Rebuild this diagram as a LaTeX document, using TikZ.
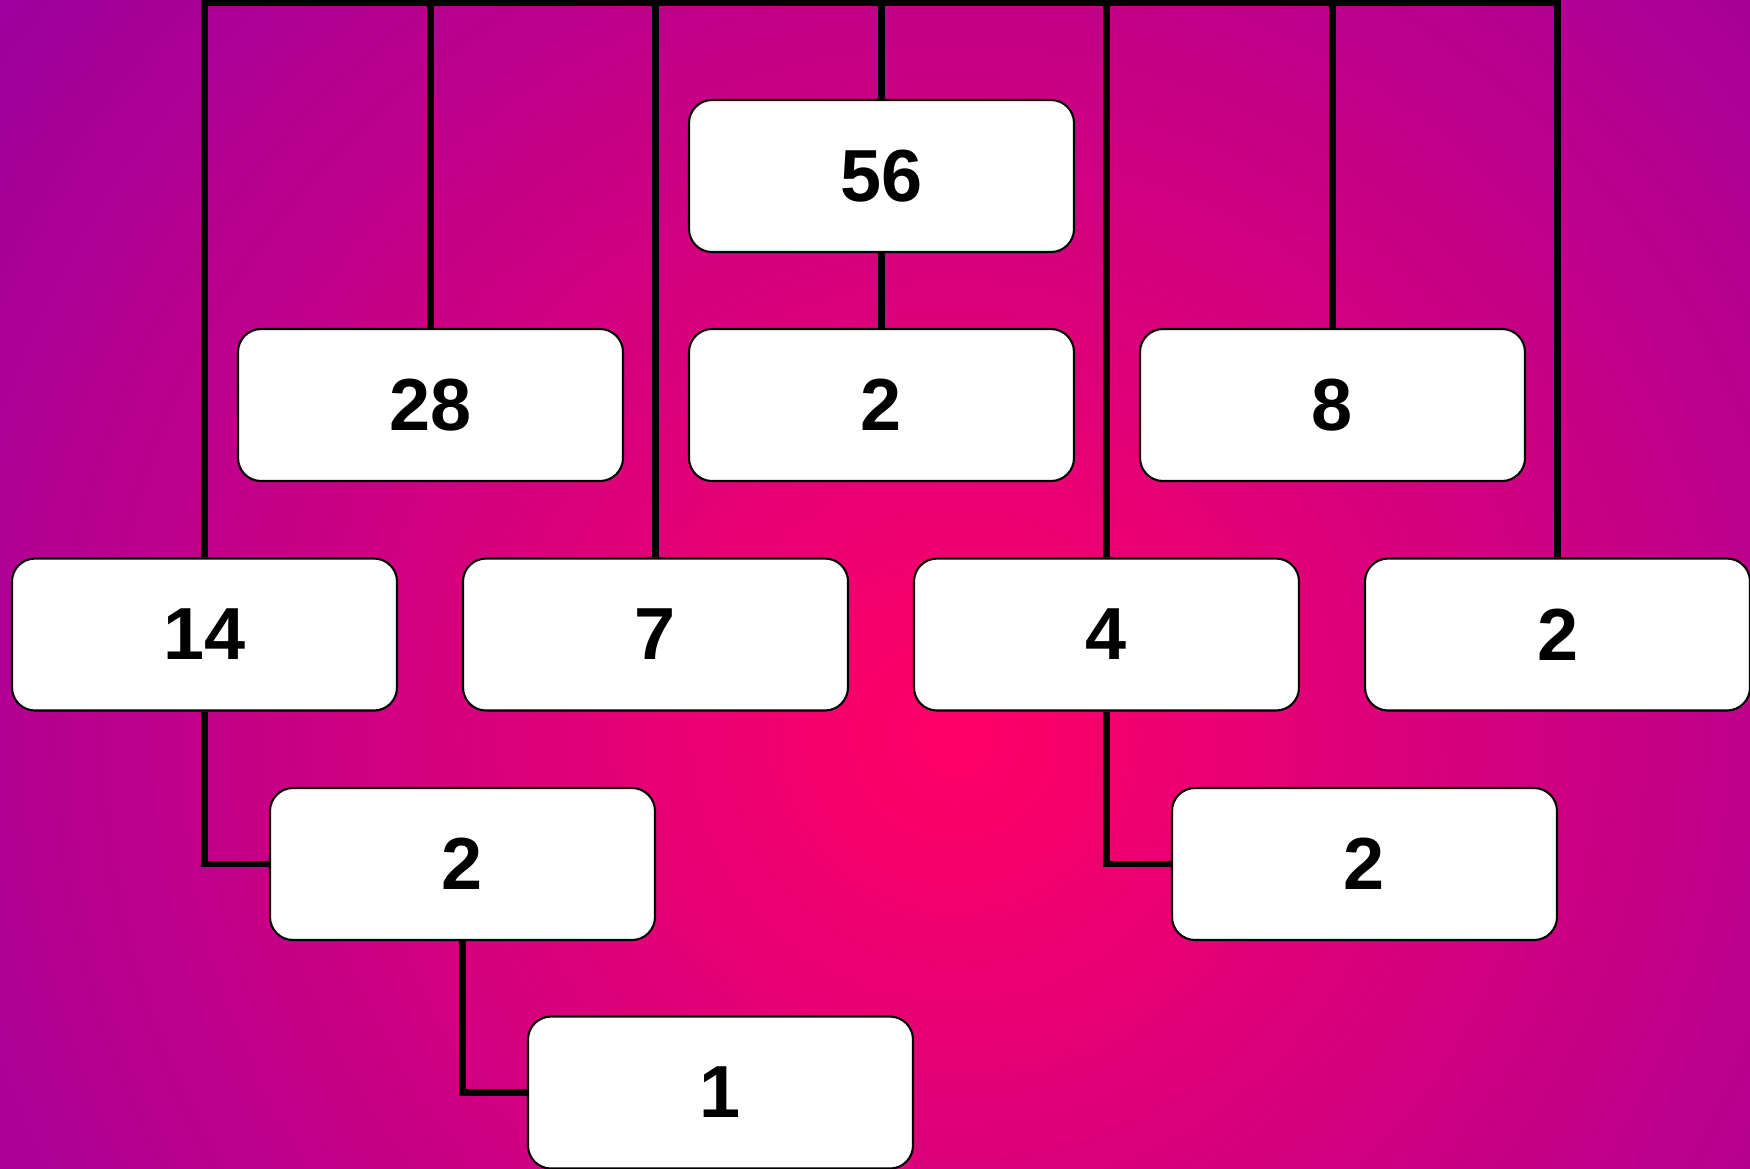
\documentclass[tikz,border=0pt]{standalone}
\usepackage{fontspec}
\setmainfont{Liberation Sans}
\usetikzlibrary{positioning,calc}
\usepackage{xcolor}
\definecolor{bgcenter}{RGB}{255,0,102}
\definecolor{bgedge}{RGB}{155,0,158}

\begin{document}
\begin{tikzpicture}[
  numbox/.style={rectangle, draw=black, line width=0.6pt, fill=white, rounded corners=0.23cm,
    minimum width=3.85cm, minimum height=1.52cm, inner sep=0pt, align=center,
    font=\fontsize{21}{25}\selectfont\bfseries},
  link/.style={draw=black, line width=1.8pt}
]
  % background
  \useasboundingbox (0,0) rectangle (17.5,-11.68);
  \begin{scope}
    \clip (0,0) rectangle (17.5,-11.68);
    \shade[inner color=bgcenter, outer color=bgedge] (9.54,-7.37) circle (12.2);
  \end{scope}

  \coordinate (bus) at (0,-0.03);

  \node[numbox] (n56) at (8.815,-1.76) {56};
  \node[numbox] (n28) at (4.305,-4.05) {28};
  \node[numbox] (n2a) at (8.815,-4.05) {2};
  \node[numbox] (n8) at (13.325,-4.05) {8};
  \node[numbox] (n14) at (2.045,-6.345) {14};
  \node[numbox] (n7) at (6.555,-6.345) {7};
  \node[numbox] (n4) at (11.065,-6.345) {4};
  \node[numbox] (n2b) at (15.575,-6.345) {2};
  \node[numbox] (n2c) at (4.625,-8.64) {2};
  \node[numbox] (n2d) at (13.645,-8.64) {2};
  \node[numbox] (n1) at (7.205,-10.925) {1};

  % links to the top bus
  \draw[link] (n14.north) -- (n14.north |- bus) -- (n2b.north |- bus) -- (n2b.north);
  \draw[link] (n28.north) -- (n28.north |- bus);
  \draw[link] (n7.north) -- (n7.north |- bus);
  \draw[link] (n56.north) -- (n56.north |- bus);
  \draw[link] (n4.north) -- (n4.north |- bus);
  \draw[link] (n8.north) -- (n8.north |- bus);
  \draw[link] (n56.south) -- (n2a.north);

  % elbows
  \draw[link] (n14.south) |- (n2c.west);
  \draw[link] (n4.south) |- (n2d.west);
  \draw[link] (n2c.south) |- (n1.west);
\end{tikzpicture}
\end{document}
